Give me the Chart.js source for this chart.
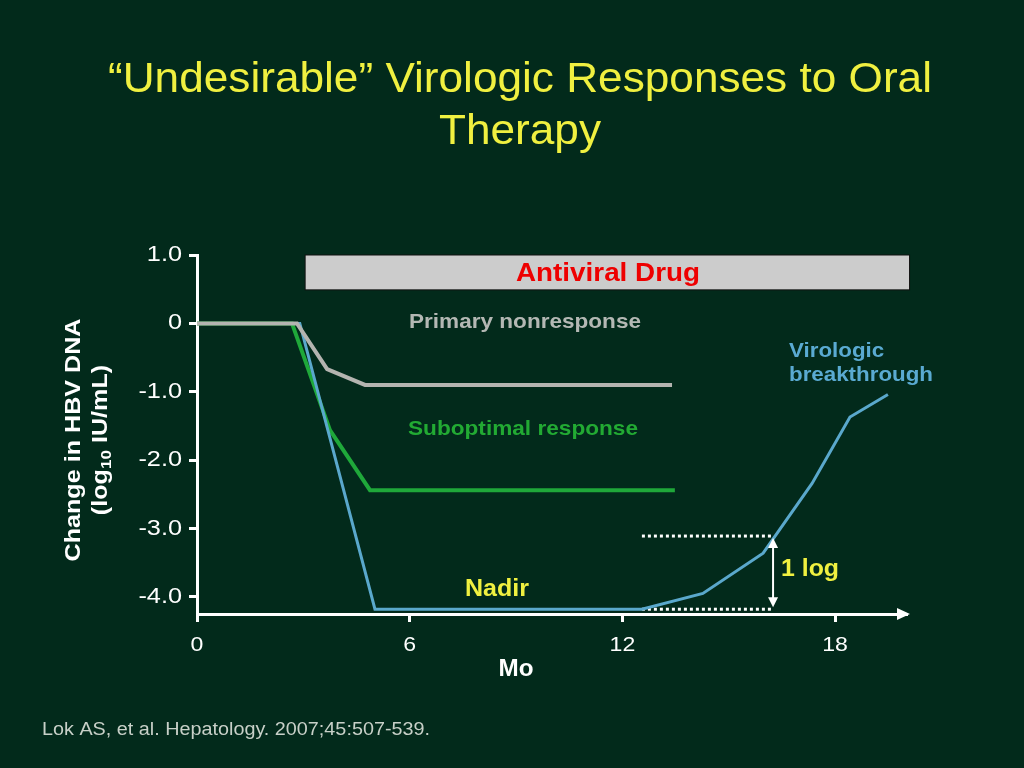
<!DOCTYPE html>
<html>
<head>
<meta charset="utf-8">
<script src="https://cdn.jsdelivr.net/npm/chart.js@4.4.1/dist/chart.umd.min.js"></script>
<style>
  html, body { margin: 0; padding: 0; background: #022a1b; }
  #wrap { width: 1024px; height: 768px; position: relative; }
</style>
</head>
<body>
<div id="wrap"><canvas id="hbvChart" width="1024" height="768"></canvas></div>
<script>
// ---- data (x = months, y = change in log10 IU/mL) ----
const xTicks = [0, 6, 12, 18];
const yTicks = [1, 0, -1, -2, -3, -4];

const primaryMonths = [0, 2.82, 3.67, 4.74, 13.4];
const primaryValues = [0, 0, -0.67, -0.9, -0.9];

const suboptimalMonths = [0, 2.68, 3.75, 4.88, 13.48];
const suboptimalValues = [0, 0, -1.56, -2.44, -2.44];

const breakthroughMonths = [0, 2.9, 5.02, 12.55, 14.27, 15.97, 17.35, 18.42, 19.49];
const breakthroughValues = [0, 0, -4.18, -4.18, -3.95, -3.36, -2.34, -1.37, -1.04];

// dotted guides for the 1 log rise
const oneLogMonths = [12.55, 16.25];
const oneLogTop = -3.11;
const oneLogBottom = -4.18;

// antiviral drug bar
const drugStart = 3.05;
const drugEnd = 20.1;
const drugLow = 0.49;
const drugHigh = 1.0;

function pts(xs, ys) {
    return xs.map((x, i) => ({ x: x, y: ys[i] }));
}

const FONT = '"Liberation Sans", Arial, sans-serif';

// slide text is a bit wider than Liberation Sans, so stretch it horizontally
function putText(ctx, text, x, y, font, color, align, stretch, width) {
    ctx.save();
    ctx.font = font;
    ctx.fillStyle = color;
    ctx.textAlign = align;
    ctx.textBaseline = 'middle';
    let s = stretch || 1;
    if (width) s = width / ctx.measureText(text).width;
    ctx.translate(x, y);
    ctx.scale(s, 1);
    ctx.fillText(text, 0, 0);
    ctx.restore();
    return s;
}

// draws the title, bar, annotations, arrow, tick labels and axis titles
const slideDecor = {
    id: 'slideDecor',
    beforeDatasetsDraw(chart) {
        const ctx = chart.ctx;
        const xs = chart.scales.x, ys = chart.scales.y;
        // antiviral drug bar
        const x0 = xs.getPixelForValue(drugStart), x1 = xs.getPixelForValue(drugEnd);
        const y0 = ys.getPixelForValue(drugHigh), y1 = ys.getPixelForValue(drugLow);
        ctx.save();
        ctx.fillStyle = '#cccccc';
        ctx.fillRect(x0, y0, x1 - x0, y1 - y0);
        ctx.strokeStyle = '#111111';
        ctx.lineWidth = 1;
        ctx.strokeRect(x0, y0, x1 - x0, y1 - y0);
        ctx.restore();
        putText(ctx, 'Antiviral Drug', 608, (y0 + y1) / 2 + 1, 'bold 26px ' + FONT, '#ee0000', 'center', 0, 184);
    },
    afterDraw(chart) {
        const ctx = chart.ctx;
        const xs = chart.scales.x, ys = chart.scales.y;
        const area = chart.chartArea;

        // title
        const ts = putText(ctx, '\u201cUndesirable\u201d Virologic Responses to Oral', 520, 80,
            '42px ' + FONT, '#f0f040', 'center', 0, 824);
        putText(ctx, 'Therapy', 520, 132, '42px ' + FONT, '#f0f040', 'center', ts);

        // tick labels
        yTicks.forEach(v => {
            putText(ctx, v === 0 ? '0' : v.toFixed(1), 182, ys.getPixelForValue(v), '22px ' + FONT, '#ffffff', 'right', 1.15);
        });
        xTicks.forEach(v => {
            putText(ctx, String(v), xs.getPixelForValue(v), 645, '21px ' + FONT, '#ffffff', 'center', 1.1);
        });

        ctx.save();
        // x axis arrow head
        ctx.fillStyle = '#ffffff';
        ctx.beginPath();
        ctx.moveTo(area.right + 4, area.bottom);
        ctx.lineTo(area.right - 9, area.bottom - 6);
        ctx.lineTo(area.right - 9, area.bottom + 6);
        ctx.closePath();
        ctx.fill();

        // 1 log double arrow
        const ax = xs.getPixelForValue(oneLogMonths[1]);
        const ayTop = ys.getPixelForValue(oneLogTop);
        const ayBot = ys.getPixelForValue(oneLogBottom);
        ctx.strokeStyle = '#ffffff';
        ctx.lineWidth = 2;
        ctx.beginPath();
        ctx.moveTo(ax, ayTop + 8);
        ctx.lineTo(ax, ayBot - 8);
        ctx.stroke();
        ctx.beginPath();
        ctx.moveTo(ax, ayTop + 2);
        ctx.lineTo(ax - 5, ayTop + 12);
        ctx.lineTo(ax + 5, ayTop + 12);
        ctx.closePath();
        ctx.fill();
        ctx.beginPath();
        ctx.moveTo(ax, ayBot - 2);
        ctx.lineTo(ax - 5, ayBot - 12);
        ctx.lineTo(ax + 5, ayBot - 12);
        ctx.closePath();
        ctx.fill();
        ctx.restore();

        // annotations
        putText(ctx, 'Primary nonresponse', 525, 322, 'bold 21px ' + FONT, '#b4b8b4', 'center', 0, 232);
        putText(ctx, 'Suboptimal response', 523, 429, 'bold 21px ' + FONT, '#22aa33', 'center', 0, 230);
        putText(ctx, 'Nadir', 497, 590, 'bold 23px ' + FONT, '#f0f040', 'center', 0, 64);
        putText(ctx, '1 log', 781, 570, 'bold 23px ' + FONT, '#f0f040', 'left', 0, 58);
        const vs = putText(ctx, 'breakthrough', 789, 375, 'bold 21px ' + FONT, '#5aaad2', 'left', 0, 144);
        putText(ctx, 'Virologic', 789, 351, 'bold 21px ' + FONT, '#5aaad2', 'left', vs);

        // x axis title
        putText(ctx, 'Mo', 516, 670, 'bold 23px ' + FONT, '#ffffff', 'center', 0, 35);

        // y axis title (rotated, with subscript)
        ctx.save();
        ctx.translate(74, 440);
        ctx.rotate(-Math.PI / 2);
        const big = 'bold 22px ' + FONT, small = 'bold 15px ' + FONT;
        const s = putText(ctx, 'Change in HBV DNA', 0, 0, big, '#ffffff', 'center', 0, 243);
        const p1 = '(log', p2 = '10', p3 = ' IU/mL)';
        ctx.font = big;
        const w1 = ctx.measureText(p1).width, w3 = ctx.measureText(p3).width;
        ctx.font = small;
        const w2 = ctx.measureText(p2).width;
        ctx.scale(s, 1);
        const sx = -(w1 + w2 + w3) / 2;
        putText(ctx, p1, sx, 27, big, '#ffffff', 'left', 1);
        putText(ctx, p2, sx + w1, 33, small, '#ffffff', 'left', 1);
        putText(ctx, p3, sx + w1 + w2, 27, big, '#ffffff', 'left', 1);
        ctx.restore();

        // citation
        putText(ctx, 'Lok AS, et al. Hepatology. 2007;45:507-539.', 42, 730, '18px ' + FONT, '#c8d0c8', 'left', 0, 388);
    }
};

const bg = {
    id: 'bg',
    beforeDraw(chart) {
        const ctx = chart.ctx;
        ctx.save();
        ctx.fillStyle = '#022a1b';
        ctx.fillRect(0, 0, chart.width, chart.height);
        ctx.restore();
    }
};

new Chart(document.getElementById('hbvChart').getContext('2d'), {
    type: 'line',
    data: {
        datasets: [
            {
                label: 'Primary nonresponse',
                data: pts(primaryMonths, primaryValues),
                borderColor: '#b4b4b0',
                borderWidth: 4
            },
            {
                label: 'Virologic breakthrough',
                data: pts(breakthroughMonths, breakthroughValues),
                borderColor: '#5aa8cc',
                borderWidth: 3
            },
            {
                label: 'Suboptimal response',
                data: pts(suboptimalMonths, suboptimalValues),
                borderColor: '#1fa83a',
                borderWidth: 4
            },
            {
                label: 'top guide',
                data: pts(oneLogMonths, [oneLogTop, oneLogTop]),
                borderColor: '#ffffff',
                borderWidth: 3,
                borderDash: [3, 3]
            },
            {
                label: 'bottom guide',
                data: pts(oneLogMonths, [oneLogBottom, oneLogBottom]),
                borderColor: '#ffffff',
                borderWidth: 3,
                borderDash: [3, 3]
            }
        ]
    },
    options: {
        responsive: false,
        animation: false,
        devicePixelRatio: 1,
        layout: { padding: { top: 255, right: 118, left: 0, bottom: 0 } },
        elements: { point: { radius: 0 }, line: { tension: 0, borderCapStyle: 'butt' } },
        plugins: { legend: { display: false }, tooltip: { enabled: false } },
        scales: {
            x: {
                type: 'linear',
                min: 0,
                max: 20,
                afterFit(scale) { scale.height = 154; },
                afterBuildTicks(scale) { scale.ticks = xTicks.map(v => ({ value: v })); },
                border: { color: '#ffffff', width: 3 },
                grid: { drawOnChartArea: false, drawTicks: true, tickLength: 8, color: '#ffffff', lineWidth: 3 },
                ticks: { color: 'rgba(0,0,0,0)', font: { size: 18, family: FONT }, padding: 14 }
            },
            y: {
                type: 'linear',
                min: -4.25,
                max: 1.0,
                afterFit(scale) { scale.width = 197; },
                afterBuildTicks(scale) { scale.ticks = yTicks.map(v => ({ value: v })); },
                border: { color: '#ffffff', width: 3 },
                grid: { drawOnChartArea: false, drawTicks: true, tickLength: 8, color: '#ffffff', lineWidth: 3 },
                ticks: { color: 'rgba(0,0,0,0)', font: { size: 19, family: FONT }, padding: 6 }
            }
        }
    },
    plugins: [bg, slideDecor]
});
</script>
</body>
</html>
